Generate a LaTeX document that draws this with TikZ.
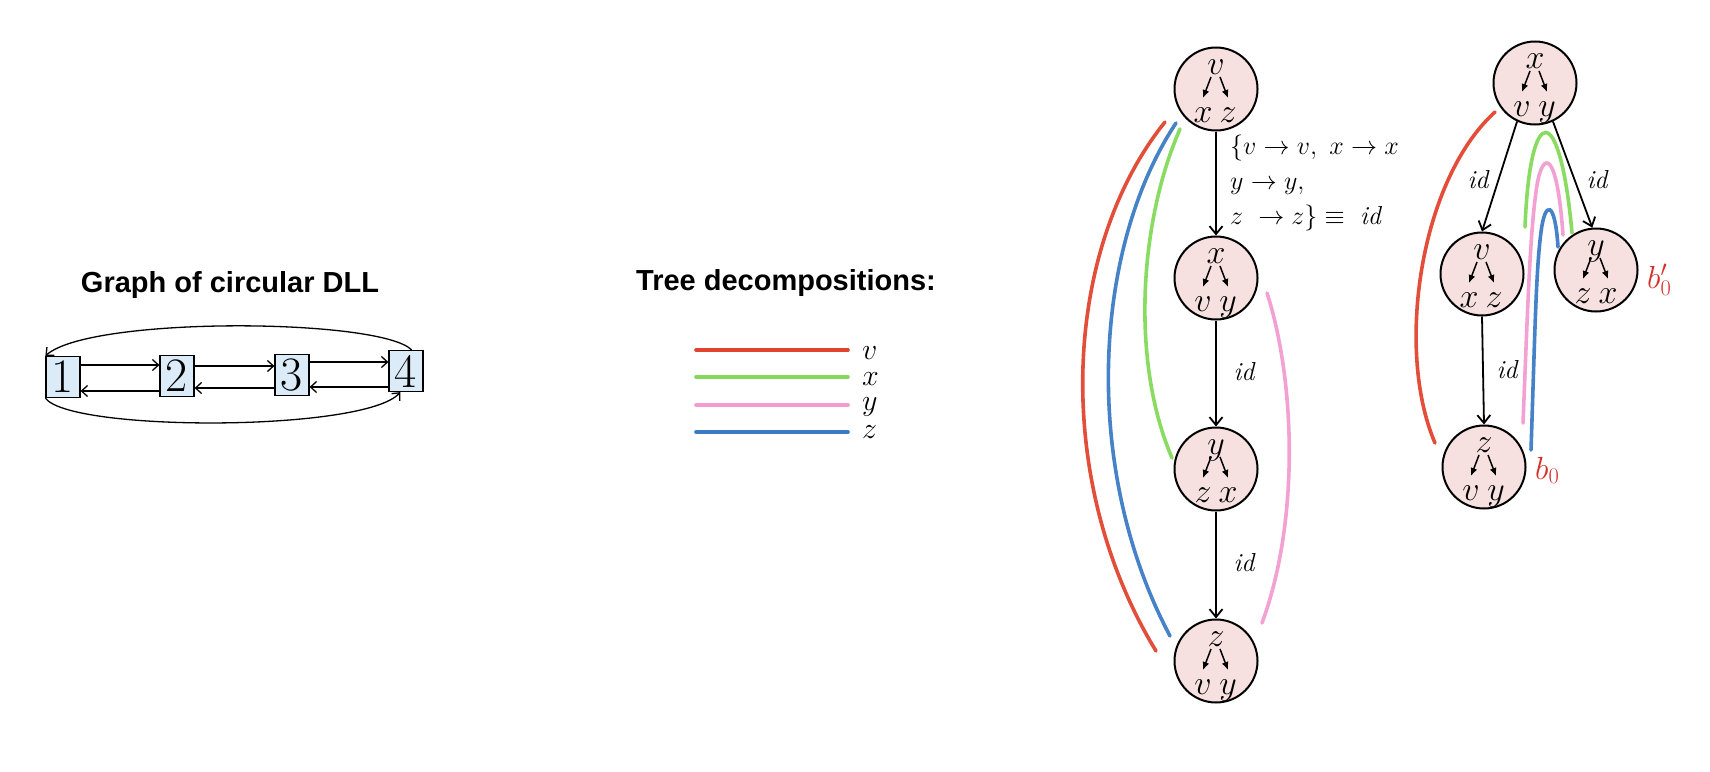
\RequirePackage{fix-cm}
\documentclass[tikz,border=0pt]{standalone}
\usepackage{fontspec}
\newfontfamily\titlefont{Liberation Sans}
\usetikzlibrary{arrows.meta,calc}
\definecolor{tdred}{HTML}{E0442E}
\definecolor{tdgreen}{HTML}{84D95A}
\definecolor{tdpink}{HTML}{F29BD0}
\definecolor{tdblue}{HTML}{3B7BC4}
\definecolor{labred}{HTML}{D5312B}
\definecolor{boxblue}{HTML}{DCEBF8}
\definecolor{nodepink}{HTML}{F7E0E0}
\newcommand\treenode[7]{%
  \node[tnode] (#1) at (#2,#3) {};
  \node[lett] (#1t) at ($(#1)+(0,-15)$) {$#5$};
  \node[lett] (#1l) at ($(#1)+(-13,33)$) {$#6$};
  \node[lett] (#1r) at ($(#1)+(12,33)$) {$#7$};
  \draw[iarr] ($(#1)+(-5,-12)$) -- ($(#1)+(-13,9)$);
  \draw[iarr] ($(#1)+(4,-12)$) -- ($(#1)+(12,9)$);
}
\begin{document}
\begin{tikzpicture}[x=1pt,y=-1pt,
  box/.style={draw,line width=1.2pt,fill=boxblue,minimum width=34pt,minimum height=41pt,inner sep=0pt,font=\fontsize{48}{48}\selectfont},
  dll/.style={line width=1.3pt,-{Straight Barb[length=6pt,width=11pt]}},
  tnode/.style={circle,draw,line width=2pt,fill=nodepink,minimum size=83pt,inner sep=0pt},
  lett/.style={font=\fontsize{34}{34}\selectfont,anchor=base,inner sep=0pt},
  iarr/.style={line width=1.5pt,-{Latex[length=8pt,width=7pt]}},
  edge/.style={line width=1.8pt,-{Straight Barb[length=8pt,width=13pt]}},
  lbl/.style={font=\fontsize{26}{26}\selectfont,inner sep=0pt},
  title/.style={font=\titlefont\bfseries\fontsize{29}{29}\selectfont,anchor=base,inner sep=0pt},
  leg/.style={line width=3.6pt,line cap=round},
  leglab/.style={font=\fontsize{30}{30}\selectfont,anchor=base west,inner sep=0pt},
  crayon/.style={line width=3.6pt,line cap=round,opacity=0.95},
  blab/.style={font=\fontsize{32}{32}\selectfont,anchor=base west,inner sep=0pt,text=labred}]
\useasboundingbox (0,0) rectangle (1710,771);

% titles
\node[title] (t1) at (230,292) {Graph of circular DLL};
\node[title] (t2) at (786,290) {Tree decompositions:};

% DLL graph
\node[box] (b1) at (63,377) {1};
\node[box] (b2) at (177,376) {2};
\node[box] (b3) at (292,375) {3};
\node[box] (b4) at (406,371) {4};
\draw[dll] ([yshift=12pt]b1.east) -- ([yshift=11pt]b2.west);
\draw[dll] ([yshift=10pt]b2.east) -- ([yshift=9pt]b3.west);
\draw[dll] ([yshift=13pt]b3.east) -- ([yshift=9pt]b4.west);
\draw[dll] ([yshift=-15pt]b2.west) -- ([yshift=-14pt]b1.east);
\draw[dll] ([yshift=-13pt]b3.west) -- ([yshift=-12pt]b2.east);
\draw[dll] ([yshift=-16pt]b4.west) -- ([yshift=-12pt]b3.east);
\draw[dll] (b4.75) .. controls (380,318) and (90,316) .. (b1.north west);
\draw[dll] (b1.south west) .. controls (70,432) and (365,432) .. (b4.-105);

% legend
\draw[leg,tdred] (696,350) -- (848,350);
\draw[leg,tdgreen] (696,377) -- (848,377);
\draw[leg,tdpink] (696,405) -- (848,405);
\draw[leg,tdblue] (696,432) -- (848,432);
\node[leglab] (lv) at (862,359) {$v$};
\node[leglab] (lx) at (862,385) {$x$};
\node[leglab] (ly) at (862,410) {$y$};
\node[leglab] (lz) at (862,438) {$z$};

% left tree
\treenode{l1}{1216}{89}{}{v}{x}{z}
\treenode{l2}{1216}{278}{}{x}{v}{y}
\treenode{l3}{1216}{469}{}{y}{z}{x}
\treenode{l4}{1216}{661}{}{z}{v}{y}
\draw[edge] (l1) -- (l2);
\draw[edge] (l2) -- (l3);
\draw[edge] (l3) -- (l4);
\node[lbl,anchor=north west,align=left,font=\fontsize{26}{35}\selectfont] (e1) at (1230,135)
  {$\{v\rightarrow v,\ x\rightarrow x$\\ $y\rightarrow y,$\\ $z\ \rightarrow z\}\equiv\ \mathit{id}$};
\node[lbl] (e2) at (1244,372) {$\mathit{id}$};
\node[lbl] (e3) at (1244,563) {$\mathit{id}$};

% right tree
\treenode{r1}{1535}{83}{}{x}{v}{y}
\treenode{r2}{1482}{274}{}{v}{x}{z}
\treenode{r3}{1596}{270}{}{y}{z}{x}
\treenode{r4}{1484}{467}{}{z}{v}{y}
\draw[edge] (r1.-115) -- (r2.north);
\draw[edge] (r1.-65) -- (r3.95);
\draw[edge] (r2.south) -- (r4.north);
\node[lbl] (e4) at (1478,180) {$\mathit{id}$};
\node[lbl] (e5) at (1597,180) {$\mathit{id}$};
\node[lbl] (e6) at (1507,370) {$\mathit{id}$};
\node[blab] (bp) at (1647,288) {$b'_0$};
\node[blab] (bz) at (1535,479) {$b_0$};

% coloured decomposition curves, left tree
\draw[crayon,tdred] (1165,122) .. controls (1062,250) and (1052,480) .. (1156,651);
\draw[crayon,tdblue] (1176,123) .. controls (1092,250) and (1082,470) .. (1170,636);
\draw[crayon,tdgreen] (1180,129) .. controls (1140,220) and (1130,360) .. (1172,458);
\draw[crayon,tdpink] (1267,293) .. controls (1295,380) and (1300,520) .. (1262,623);

% coloured decomposition curves, right tree
\draw[crayon,tdred] (1495,112) .. controls (1420,180) and (1395,350) .. (1435,443);
\draw[crayon,tdgreen] (1525,227) .. controls (1530,100) and (1560,100) .. (1572,233);
\draw[crayon,tdpink] (1523,423) .. controls (1528,300) and (1530,230) .. (1537,185)
  .. controls (1543,150) and (1557,150) .. (1563,235);
\draw[crayon,tdblue] (1531,450) .. controls (1535,330) and (1536,270) .. (1541,232)
  .. controls (1545,200) and (1555,200) .. (1558,247);
\end{tikzpicture}
\end{document}
